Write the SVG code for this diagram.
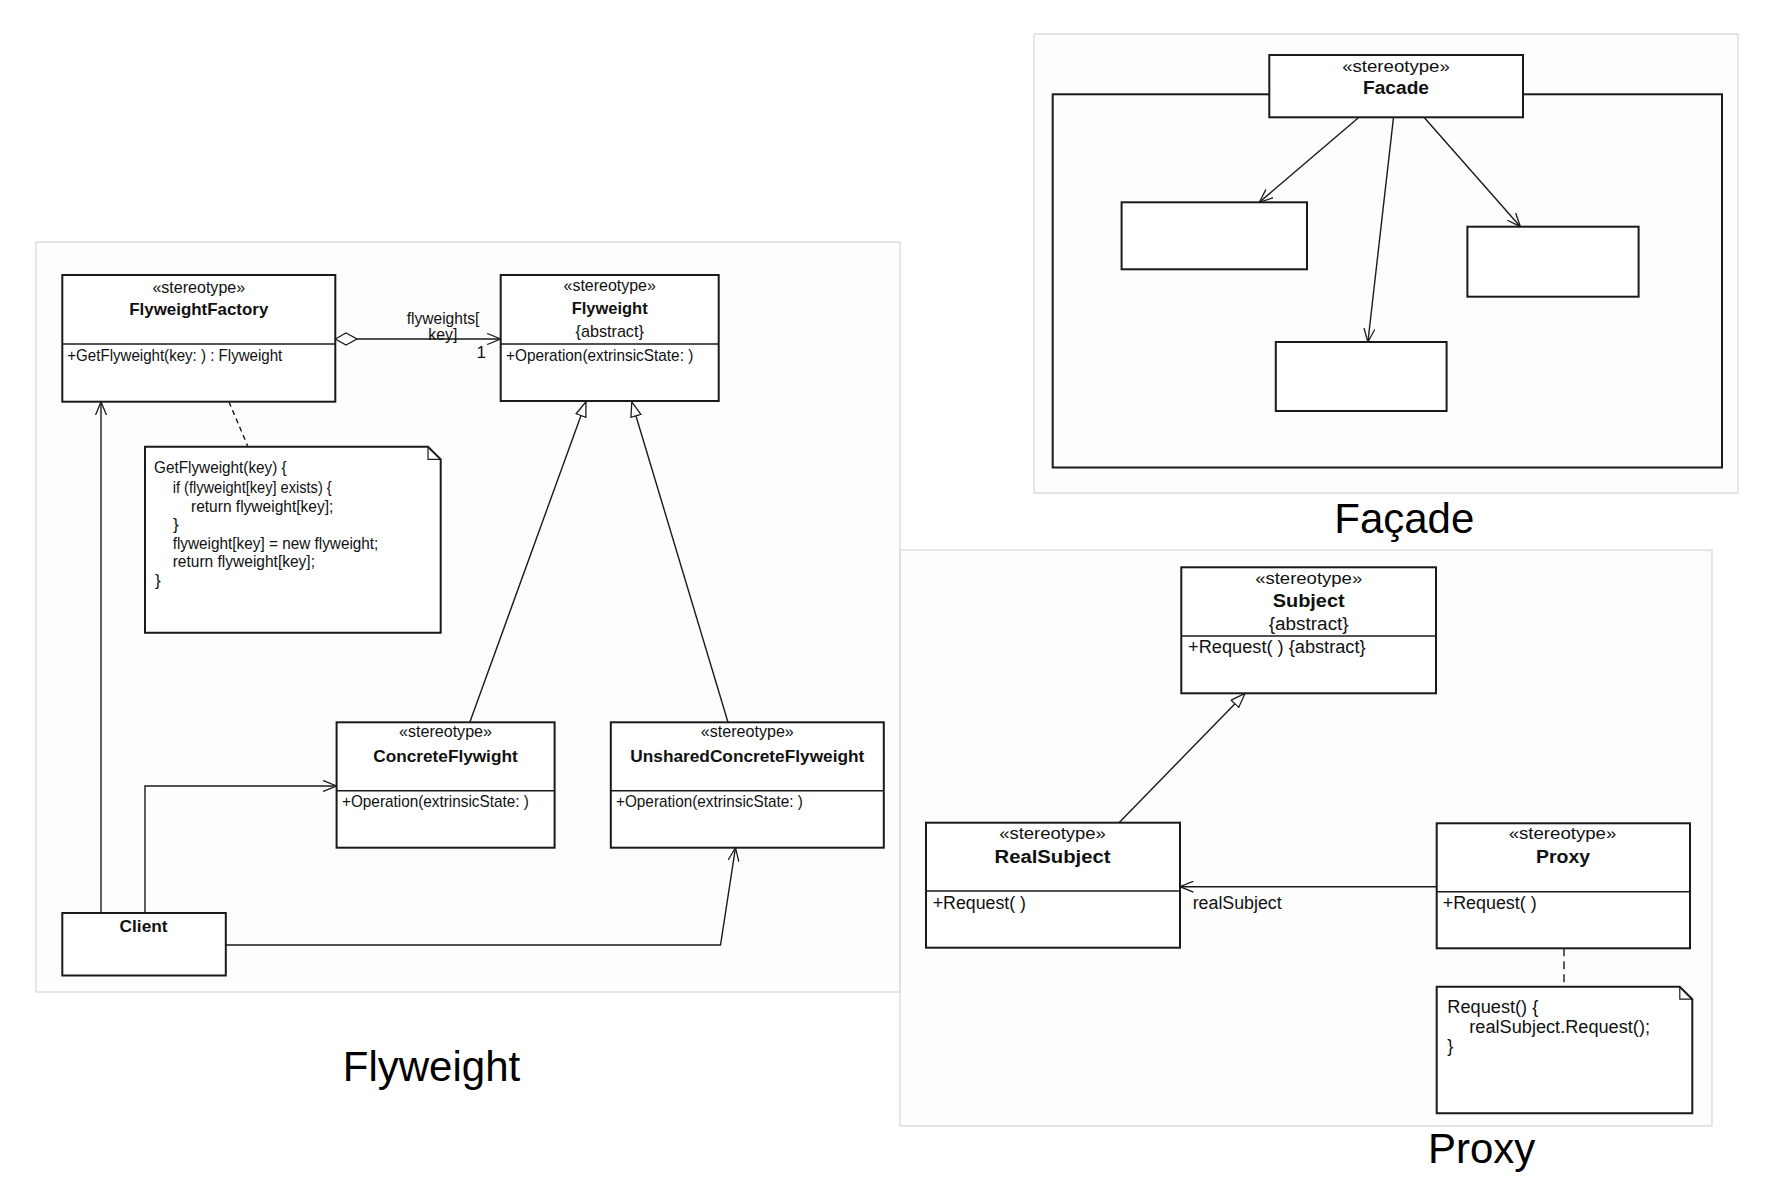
<svg xmlns="http://www.w3.org/2000/svg" width="1778" height="1186" viewBox="0 0 1778 1186">
<defs>
<style>
.panel{fill:#fdfdfd;stroke:#d6d6d6;stroke-width:1.2}
.box{fill:#fff;stroke:#1a1a1a;stroke-width:2}
.dv{stroke:#1a1a1a;stroke-width:1.6}
.t{font-family:"Liberation Sans",Arial,sans-serif;fill:#111}
.s{font-size:16px}
.n{font-size:17px;font-weight:bold}
.m{font-size:17px}
.ps{font-size:17px}
.pn{font-size:18px;font-weight:bold}
.pm{font-size:18px}
.c{text-anchor:middle}
.ln{fill:none;stroke:#1a1a1a;stroke-width:1.4}
.dash{stroke-dasharray:5 4}
.dash2{stroke-dasharray:8 5}
.cap{font-family:"Liberation Sans",Arial,sans-serif;font-size:42px;fill:#000}
</style>
<marker id="open" viewBox="0 0 14 12" refX="13.5" refY="6" markerWidth="14" markerHeight="12" orient="auto" markerUnits="userSpaceOnUse"><path d="M0,0.5 L13.5,6 L0,11.5" fill="none" stroke="#1a1a1a" stroke-width="1.3"/></marker>
<marker id="tri" viewBox="0 0 16 12" refX="15.5" refY="6" markerWidth="16" markerHeight="12" orient="auto" markerUnits="userSpaceOnUse"><path d="M0.8,0.8 L15.3,6 L0.8,11.2 Z" fill="#fff" stroke="#1a1a1a" stroke-width="1.3"/></marker>
</defs>
<rect x="0" y="0" width="1778" height="1186" fill="#fff"/>

<!-- panels -->
<rect class="panel" x="36" y="242" width="864" height="750"/>
<rect class="panel" x="1034" y="34" width="704" height="459"/>
<rect class="panel" x="900" y="550" width="812" height="576"/>

<!-- Flyweight figure nodes -->
<g id="flyweightFactory">
<rect class="box" x="62.3" y="275" width="273" height="126.7"/>
<line class="dv" x1="62.3" y1="344" x2="335.3" y2="344"/>
<text class="t s c" x="198.8" y="292.5" textLength="92.7" lengthAdjust="spacingAndGlyphs">«stereotype»</text>
<text class="t n c" x="198.8" y="315" textLength="139" lengthAdjust="spacingAndGlyphs">FlyweightFactory</text>
<text class="t m" x="67.3" y="360.5" textLength="215" lengthAdjust="spacingAndGlyphs">+GetFlyweight(key: ) : Flyweight</text>
</g>
<g id="flyweight">
<rect class="box" x="500.7" y="275" width="218" height="126"/>
<line class="dv" x1="500.7" y1="344" x2="718.7" y2="344"/>
<text class="t s c" x="609.7" y="291" textLength="92.3" lengthAdjust="spacingAndGlyphs">«stereotype»</text>
<text class="t n c" x="609.7" y="314" textLength="76" lengthAdjust="spacingAndGlyphs">Flyweight</text>
<text class="t m c" x="609.7" y="337" textLength="68.3" lengthAdjust="spacingAndGlyphs">{abstract}</text>
<text class="t m" x="506" y="360.5" textLength="187.3" lengthAdjust="spacingAndGlyphs">+Operation(extrinsicState: )</text>
</g>
<g id="noteFactory">
<path class="box" d="M145,446.7 L428,446.7 L440.7,459.4 L440.7,632.7 L145,632.7 Z"/>
<path d="M428,446.7 L428,459.4 L440.7,459.4" fill="none" stroke="#1a1a1a" stroke-width="1.2"/>
<text class="t m" x="154" y="473.3" textLength="132.7" lengthAdjust="spacingAndGlyphs">GetFlyweight(key) {</text>
<text class="t m" x="172.7" y="492.5" textLength="159" lengthAdjust="spacingAndGlyphs">if (flyweight[key] exists) {</text>
<text class="t m" x="191" y="511.5" textLength="142.3" lengthAdjust="spacingAndGlyphs">return flyweight[key];</text>
<text class="t m" x="173" y="530">}</text>
<text class="t m" x="172.7" y="548.5" textLength="205.7" lengthAdjust="spacingAndGlyphs">flyweight[key] = new flyweight;</text>
<text class="t m" x="172.7" y="567" textLength="142.3" lengthAdjust="spacingAndGlyphs">return flyweight[key];</text>
<text class="t m" x="155" y="586">}</text>
</g>
<g id="concreteFlyweight">
<rect class="box" x="336.6" y="722.3" width="218" height="125.4"/>
<line class="dv" x1="336.6" y1="790.7" x2="554.6" y2="790.7"/>
<text class="t s c" x="445.5" y="737" textLength="93" lengthAdjust="spacingAndGlyphs">«stereotype»</text>
<text class="t n c" x="445.5" y="761.5" textLength="144.3" lengthAdjust="spacingAndGlyphs">ConcreteFlywight</text>
<text class="t m" x="342" y="807" textLength="186.8" lengthAdjust="spacingAndGlyphs">+Operation(extrinsicState: )</text>
</g>
<g id="unsharedConcreteFlyweight">
<rect class="box" x="610.8" y="722.3" width="273" height="125.4"/>
<line class="dv" x1="610.8" y1="790.7" x2="883.8" y2="790.7"/>
<text class="t s c" x="747.3" y="737" textLength="93" lengthAdjust="spacingAndGlyphs">«stereotype»</text>
<text class="t n c" x="747.3" y="761.5" textLength="234" lengthAdjust="spacingAndGlyphs">UnsharedConcreteFlyweight</text>
<text class="t m" x="616" y="807" textLength="186.8" lengthAdjust="spacingAndGlyphs">+Operation(extrinsicState: )</text>
</g>
<g id="client">
<rect class="box" x="62.3" y="913" width="163.5" height="62.5"/>
<text class="t n c" x="143.6" y="931.5" textLength="48" lengthAdjust="spacingAndGlyphs">Client</text>
</g>

<!-- Facade figure nodes -->
<g id="facadeFrame">
<rect x="1052.7" y="94.3" width="669.3" height="373.2" fill="none" stroke="#1a1a1a" stroke-width="2"/>
</g>
<g id="facade">
<rect class="box" x="1269.3" y="55" width="253.7" height="62.3"/>
<text class="t ps c" x="1396" y="71.5" textLength="107.6" lengthAdjust="spacingAndGlyphs">«stereotype»</text>
<text class="t pn c" x="1396" y="94" textLength="66" lengthAdjust="spacingAndGlyphs">Facade</text>
</g>
<g id="subsystemA"><rect class="box" x="1121.6" y="202.3" width="185.4" height="67"/></g>
<g id="subsystemB"><rect class="box" x="1467.4" y="226.7" width="171.2" height="70"/></g>
<g id="subsystemC"><rect class="box" x="1275.8" y="342" width="170.8" height="69"/></g>

<!-- Proxy figure nodes -->
<g id="subject">
<rect class="box" x="1181.3" y="567.3" width="254.7" height="126"/>
<line class="dv" x1="1181.3" y1="636" x2="1436" y2="636"/>
<text class="t ps c" x="1308.7" y="584" textLength="107" lengthAdjust="spacingAndGlyphs">«stereotype»</text>
<text class="t pn c" x="1308.7" y="607" textLength="72" lengthAdjust="spacingAndGlyphs">Subject</text>
<text class="t pm c" x="1308.7" y="630" textLength="80" lengthAdjust="spacingAndGlyphs">{abstract}</text>
<text class="t pm" x="1188" y="652.5" textLength="177.6" lengthAdjust="spacingAndGlyphs">+Request( ) {abstract}</text>
</g>
<g id="realSubject">
<rect class="box" x="926" y="822.7" width="254" height="125"/>
<line class="dv" x1="926" y1="891" x2="1180" y2="891"/>
<text class="t ps c" x="1052.5" y="839" textLength="106.7" lengthAdjust="spacingAndGlyphs">«stereotype»</text>
<text class="t pn c" x="1052.5" y="862.5" textLength="116" lengthAdjust="spacingAndGlyphs">RealSubject</text>
<text class="t pm" x="932.7" y="909" textLength="93.3" lengthAdjust="spacingAndGlyphs">+Request( )</text>
</g>
<g id="proxy">
<rect class="box" x="1436.7" y="823.3" width="253.3" height="125"/>
<line class="dv" x1="1436.7" y1="891.7" x2="1690" y2="891.7"/>
<text class="t ps c" x="1562.5" y="839" textLength="107.7" lengthAdjust="spacingAndGlyphs">«stereotype»</text>
<text class="t pn c" x="1563" y="863" textLength="54" lengthAdjust="spacingAndGlyphs">Proxy</text>
<text class="t pm" x="1442.7" y="909" textLength="94" lengthAdjust="spacingAndGlyphs">+Request( )</text>
</g>
<g id="noteProxy">
<path class="box" d="M1436.7,986.7 L1679.8,986.7 L1692.3,999.2 L1692.3,1113.3 L1436.7,1113.3 Z"/>
<path d="M1679.8,986.7 L1679.8,999.2 L1692.3,999.2" fill="none" stroke="#1a1a1a" stroke-width="1.2"/>
<text class="t pm" x="1447.3" y="1013" textLength="91" lengthAdjust="spacingAndGlyphs">Request() {</text>
<text class="t pm" x="1469.3" y="1033" textLength="180.7" lengthAdjust="spacingAndGlyphs">realSubject.Request();</text>
<text class="t pm" x="1447.3" y="1052">}</text>
</g>

<!-- connectors -->
<g id="connectors">
<polygon points="335.3,339 346,333 357,339 346,345" fill="#fff" stroke="#1a1a1a" stroke-width="1.3"/>
<line class="ln" x1="357" y1="339" x2="500.7" y2="339" marker-end="url(#open)"/>
<text class="t m" x="406.7" y="324" textLength="72.7" lengthAdjust="spacingAndGlyphs">flyweights[</text>
<text class="t m" x="428.3" y="340" textLength="29" lengthAdjust="spacingAndGlyphs">key]</text>
<text class="t m" x="476.5" y="358">1</text>
<line class="ln dash" x1="229" y1="402" x2="248" y2="446.7"/>
<line class="ln" x1="101" y1="913" x2="101" y2="401.7" marker-end="url(#open)"/>
<polyline class="ln" points="145,913 145,786 336.6,786" marker-end="url(#open)"/>
<polyline class="ln" points="225.8,945 720.5,945 735.5,847.7" marker-end="url(#open)"/>
<line class="ln" x1="469.8" y1="722.3" x2="586" y2="401.7" marker-end="url(#tri)"/>
<line class="ln" x1="728" y1="722.3" x2="631.7" y2="401.7" marker-end="url(#tri)"/>

<line class="ln" x1="1359" y1="117.3" x2="1259.3" y2="202.3" marker-end="url(#open)"/>
<line class="ln" x1="1393.5" y1="117.3" x2="1367.9" y2="342" marker-end="url(#open)"/>
<line class="ln" x1="1424" y1="117.3" x2="1520.4" y2="226.7" marker-end="url(#open)"/>

<line class="ln" x1="1119" y1="822.7" x2="1245.2" y2="693.3" marker-end="url(#tri)"/>
<line class="ln" x1="1436.7" y1="886.7" x2="1180" y2="886.7" marker-end="url(#open)"/>
<text class="t pm" x="1192.7" y="908.5" textLength="89" lengthAdjust="spacingAndGlyphs">realSubject</text>
<line class="ln dash2" x1="1564" y1="948.3" x2="1564" y2="986.7"/>
</g>

<!-- captions -->
<text class="cap" x="431.5" y="1081" text-anchor="middle">Flyweight</text>
<text class="cap" x="1404.3" y="533" text-anchor="middle">Façade</text>
<text class="cap" x="1428" y="1162.7">Proxy</text>
</svg>
